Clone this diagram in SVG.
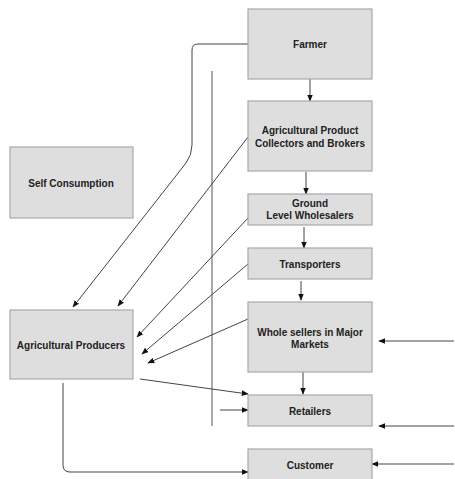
<svg xmlns="http://www.w3.org/2000/svg" width="455" height="479" viewBox="0 0 455 479">
<style>
.box{fill:#dedede;stroke:#a8a8a8;stroke-width:1.2}
.t{font-family:"Liberation Sans",Arial,sans-serif;font-size:10px;font-weight:bold;fill:#222;text-anchor:middle}
.c{fill:none;stroke:#444;stroke-width:1;marker-end:url(#ah)}
.l{fill:none;stroke:#555;stroke-width:1}
</style>
<defs>
<marker id="ah" viewBox="0 0 10 10" refX="9" refY="5" markerWidth="7" markerHeight="7" markerUnits="userSpaceOnUse" orient="auto">
<path d="M0,1 L10,5 L0,9 Z" fill="#111"/>
</marker>
</defs>
<rect width="455" height="479" fill="#fff"/>
<g id="connectors">
<path class="l" d="M212,71 V426"/>
<path class="c" d="M248,44 H198 Q192,44 192,50 V145 Q192,155 186,163 L73,307"/>
<path class="c" d="M310,79 V101"/>
<path class="c" d="M248,137 L118,306"/>
<path class="c" d="M306,172 V194"/>
<path class="c" d="M248,218 L137,337"/>
<path class="c" d="M304,227 V248"/>
<path class="c" d="M248,264 L142,354"/>
<path class="c" d="M301,281 V300"/>
<path class="c" d="M248,319 L148,363"/>
<path class="c" d="M303,372 V394"/>
<path class="c" d="M140,379 L248,394"/>
<path class="c" d="M220,410 H248"/>
<path class="c" d="M63,383 V465 Q63,472 70,472 H248"/>
<path class="c" d="M454,341 H379"/>
<path class="c" d="M454,426 H379"/>
<path class="c" d="M454,464 H372"/>
</g>
<g id="farmer"><rect class="box" x="248" y="9" width="124" height="70"/><text class="t" x="310" y="48">Farmer</text></g>
<g id="collectors"><rect class="box" x="248" y="101" width="124" height="70"/><text class="t" x="310" y="134">Agricultural Product</text><text class="t" x="310" y="147">Collectors and Brokers</text></g>
<g id="ground"><rect class="box" x="248" y="194" width="124" height="31"/><text class="t" x="310" y="207">Ground</text><text class="t" x="310" y="219">Level Wholesalers</text></g>
<g id="transporters"><rect class="box" x="248" y="248" width="124" height="31"/><text class="t" x="310" y="268">Transporters</text></g>
<g id="wholesellers"><rect class="box" x="248" y="302" width="124" height="70"/><text class="t" x="310" y="336">Whole sellers in Major</text><text class="t" x="310" y="348">Markets</text></g>
<g id="retailers"><rect class="box" x="248" y="395" width="124" height="31"/><text class="t" x="310" y="415">Retailers</text></g>
<g id="customer"><rect class="box" x="248" y="449" width="124" height="32"/><text class="t" x="310" y="469">Customer</text></g>
<g id="self"><rect class="box" x="10" y="147" width="123" height="71"/><text class="t" x="71" y="187">Self Consumption</text></g>
<g id="producers"><rect class="box" x="10" y="310" width="123" height="69"/><text class="t" x="71" y="349">Agricultural Producers</text></g>
</svg>
